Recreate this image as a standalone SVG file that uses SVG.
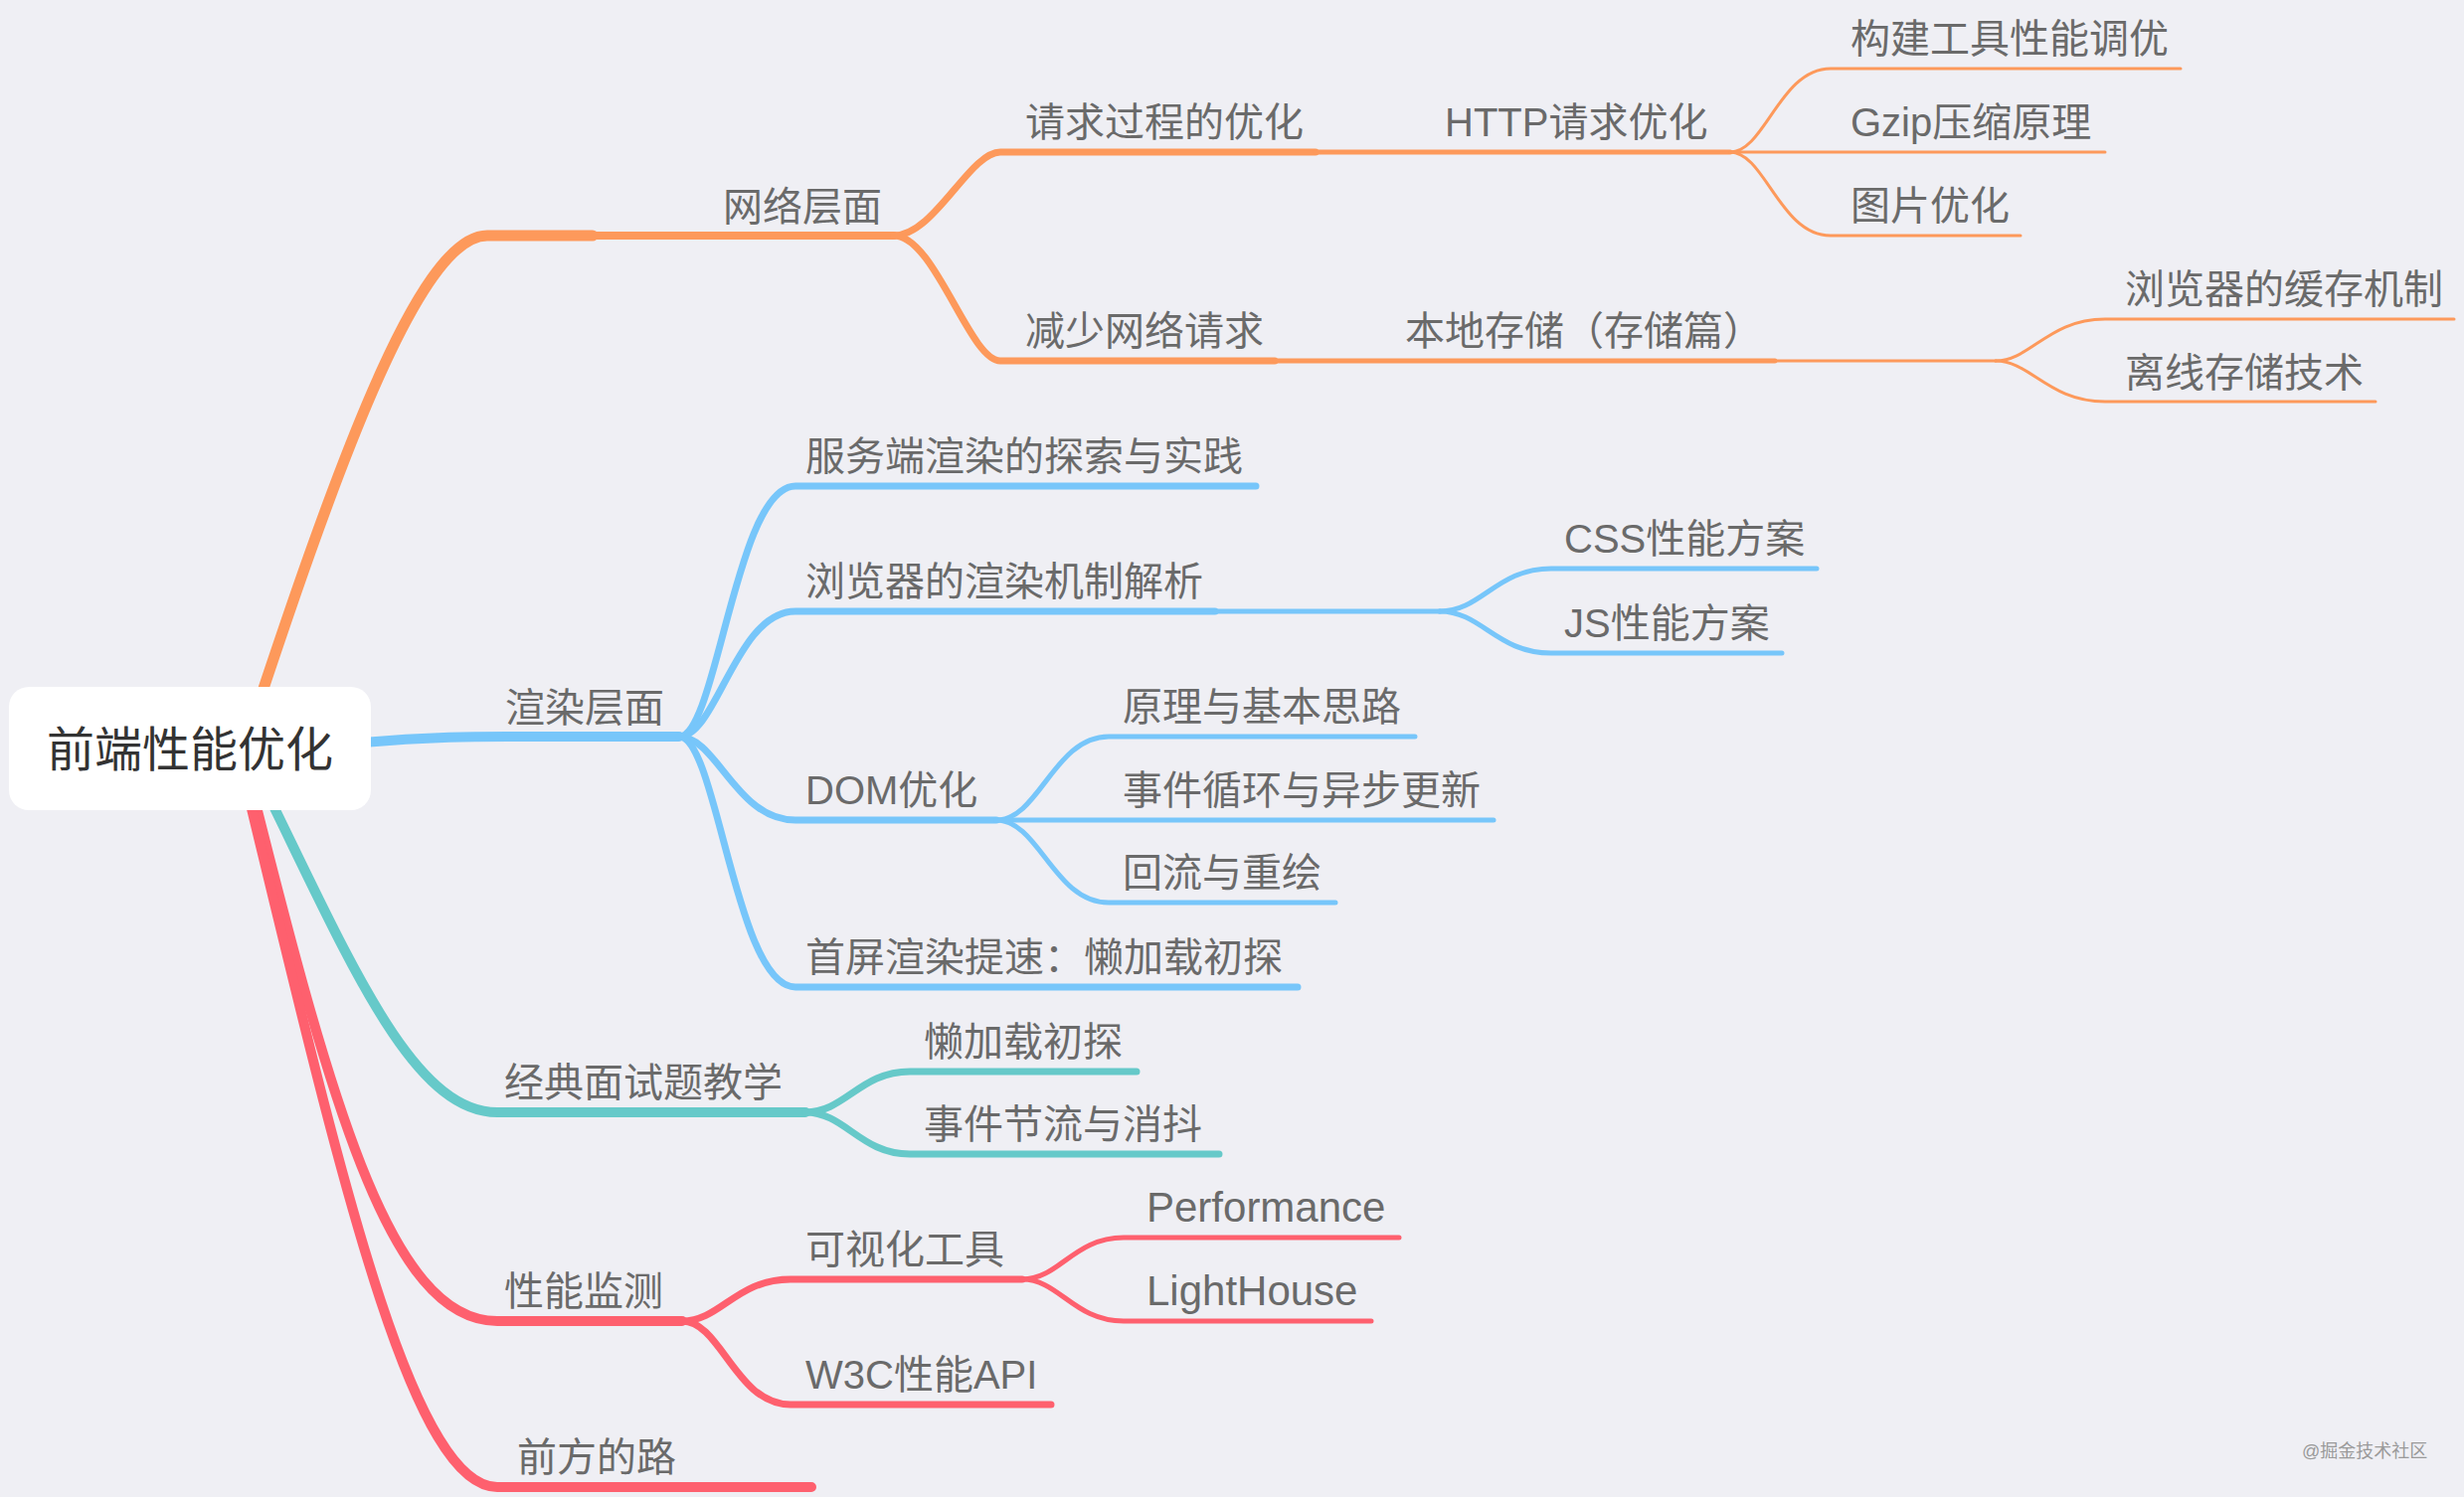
<svg xmlns="http://www.w3.org/2000/svg" width="2478" height="1506" viewBox="0 0 2478 1506">
<style>
.c{fill:none;stroke-linecap:round;stroke-linejoin:round}
.o{stroke:#FD995B}.b{stroke:#77C6FA}.t{stroke:#66C9C9}.r{stroke:#FE606E}
.w1{stroke-width:10}.w2{stroke-width:7}.w3{stroke-width:5}.w4{stroke-width:3}
text{font-family:"Liberation Sans","Noto Sans CJK SC",sans-serif;font-size:40px;fill:#6A6A6A}
.root{font-size:48px;fill:#333}
.lat{font-size:42px}
.wm{font-size:18px;fill:#9A9A9A}
</style>
<rect width="2478" height="1506" fill="#EFEFF4"/>
<g id="connectors">
<!-- orange -->
<path class="c o" style="stroke-width:11" d="M245 753 C335 480 420 237 490 237 H596"/>
<path class="c o" style="stroke-width:8" d="M485 237 H899"/>
<path class="c o w2" d="M899 237 C940 237 975 153 1006 153 H1323"/>
<path class="c o w3" d="M1323 153 H1740"/>
<path class="c o w4" d="M1740 153 C1775 153 1790 69 1841 69 H2193"/>
<path class="c o w4" d="M1740 153 H2117"/>
<path class="c o w4" d="M1740 153 C1775 153 1790 237 1841 237 H2032"/>
<path class="c o w2" d="M899 237 C940 237 975 363 1006 363 H1282"/>
<path class="c o w3" d="M1282 363 H1785"/>
<path class="c o w4" d="M1785 363 H2007"/>
<path class="c o w4" d="M2007 363 C2042 363 2060 321 2117 321 H2468"/>
<path class="c o w4" d="M2007 363 C2042 363 2060 404 2117 404 H2389"/>
<!-- blue -->
<path class="c b w1" d="M365 747 C430 741 480 741 520 741 H683"/>
<path class="c b w2" d="M683 741 C721 741 740 489 800 489 H1263"/>
<path class="c b w2" d="M683 741 C721 741 740 615 800 615 H1222"/>
<path class="c b w3" d="M1222 615 H1448"/>
<path class="c b w3" d="M1448 615 C1490 615 1505 572 1560 572 H1827"/>
<path class="c b w3" d="M1448 615 C1490 615 1505 657 1560 657 H1792"/>
<path class="c b w2" d="M683 741 C721 741 740 825 800 825 H1002"/>
<path class="c b w3" d="M1002 825 C1045 825 1060 741 1115 741 H1423"/>
<path class="c b w3" d="M1002 825 H1502"/>
<path class="c b w3" d="M1002 825 C1045 825 1060 908 1115 908 H1343"/>
<path class="c b w2" d="M683 741 C721 741 740 993 800 993 H1305"/>
<!-- teal -->
<path class="c t w1" d="M250 760 C345 950 410 1119 500 1119 H810"/>
<path class="c t w2" d="M810 1119 C850 1119 865 1078 915 1078 H1143"/>
<path class="c t w2" d="M810 1119 C850 1119 865 1161 915 1161 H1226"/>
<!-- red -->
<path class="c r w1" d="M245 760 C330 1100 390 1329 500 1329 H686"/>
<path class="c r w2" d="M686 1329 C725 1329 740 1287 795 1287 H1028"/>
<path class="c r w3" d="M1028 1287 C1065 1287 1080 1245 1130 1245 H1407"/>
<path class="c r w3" d="M1028 1287 C1065 1287 1080 1329 1130 1329 H1379"/>
<path class="c r w2" d="M686 1329 C725 1329 740 1413 795 1413 H1057"/>
<path class="c r w1" d="M240 760 C335 1150 410 1496 500 1496 H816"/>
</g>
<g id="root"><rect x="9" y="691" width="364" height="124" rx="20" fill="#FFFFFF"/><text class="root" x="191" y="771" text-anchor="middle">前端性能优化</text></g>
<g id="n-network"><text x="727" y="222">网络层面</text></g>
<g id="n-request"><text x="1031" y="137">请求过程的优化</text></g>
<g id="n-http"><text x="1453" y="137">HTTP请求优化</text></g>
<g id="n-build"><text x="1861" y="53">构建工具性能调优</text></g>
<g id="n-gzip"><text x="1861" y="137">Gzip压缩原理</text></g>
<g id="n-img"><text x="1861" y="221">图片优化</text></g>
<g id="n-reduce"><text x="1031" y="347">减少网络请求</text></g>
<g id="n-storage"><text x="1413" y="347">本地存储（存储篇）</text></g>
<g id="n-cache"><text x="2137" y="305">浏览器的缓存机制</text></g>
<g id="n-offline"><text x="2137" y="389">离线存储技术</text></g>
<g id="n-render"><text x="508" y="726">渲染层面</text></g>
<g id="n-ssr"><text x="810" y="473">服务端渲染的探索与实践</text></g>
<g id="n-browser"><text x="810" y="599">浏览器的渲染机制解析</text></g>
<g id="n-css"><text x="1573" y="556">CSS性能方案</text></g>
<g id="n-js"><text x="1573" y="641">JS性能方案</text></g>
<g id="n-dom"><text x="810" y="809">DOM优化</text></g>
<g id="n-principle"><text x="1129" y="725">原理与基本思路</text></g>
<g id="n-eventloop"><text x="1129" y="809">事件循环与异步更新</text></g>
<g id="n-reflow"><text x="1129" y="892">回流与重绘</text></g>
<g id="n-firstscreen"><text x="810" y="977">首屏渲染提速：懒加载初探</text></g>
<g id="n-interview"><text x="507" y="1103">经典面试题教学</text></g>
<g id="n-lazy"><text x="929" y="1062">懒加载初探</text></g>
<g id="n-throttle"><text x="929" y="1145">事件节流与消抖</text></g>
<g id="n-monitor"><text x="507" y="1313">性能监测</text></g>
<g id="n-visual"><text x="810" y="1271">可视化工具</text></g>
<g id="n-performance"><text class="lat" x="1153" y="1229">Performance</text></g>
<g id="n-lighthouse"><text class="lat" x="1153" y="1313">LightHouse</text></g>
<g id="n-w3c"><text x="810" y="1397">W3C性能API</text></g>
<g id="n-road"><text x="520" y="1480">前方的路</text></g>
<text class="wm" x="2315" y="1466">@掘金技术社区</text>
</svg>
